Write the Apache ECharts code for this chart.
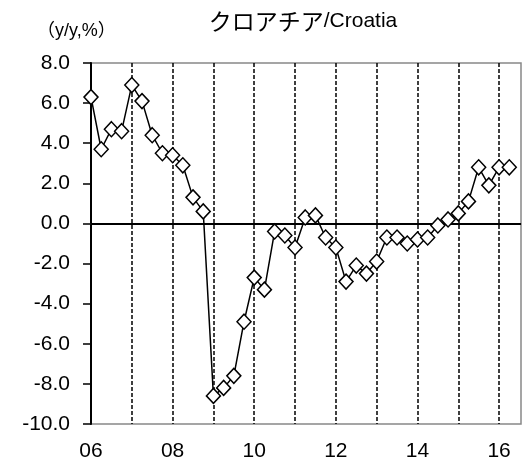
<!DOCTYPE html>
<html>
<head>
<meta charset="utf-8">
<script src="https://cdn.jsdelivr.net/npm/echarts@6/dist/echarts.min.js"></script>
<style>
html,body{margin:0;padding:0;background:#fff;}
#c{width:525px;height:464px;}
</style>
</head>
<body>
<div id="c"></div>
<script>
// Quarterly periods 2006Q1 .. 2016Q2
const quarters = [
  '06Q1','06Q2','06Q3','06Q4','07Q1','07Q2','07Q3','07Q4',
  '08Q1','08Q2','08Q3','08Q4','09Q1','09Q2','09Q3','09Q4',
  '10Q1','10Q2','10Q3','10Q4','11Q1','11Q2','11Q3','11Q4',
  '12Q1','12Q2','12Q3','12Q4','13Q1','13Q2','13Q3','13Q4',
  '14Q1','14Q2','14Q3','14Q4','15Q1','15Q2','15Q3','15Q4',
  '16Q1','16Q2'
];
// y/y % values
const values = [
  6.3, 3.7, 4.7, 4.6, 6.9, 6.1, 4.4, 3.5,
  3.4, 2.9, 1.3, 0.6, -8.6, -8.2, -7.6, -4.9,
  -2.7, -3.3, -0.4, -0.6, -1.2, 0.3, 0.4, -0.7,
  -1.2, -2.9, -2.1, -2.5, -1.9, -0.7, -0.7, -1.0,
  -0.8, -0.7, -0.1, 0.2, 0.5, 1.1, 2.8, 1.9,
  2.8, 2.8
];
// x tick labels (every second year start)
const yearLabels = ['06','08','10','12','14','16'];
const yTicks = { min: -10, max: 8, step: 2 };

const FONT = 'Liberation Sans';
const seriesData = values.map((v, i) => [i, v]);

const chart = echarts.init(document.getElementById('c'), null, {renderer: 'canvas'});
chart.setOption({
  animation: false,
  backgroundColor: '#fff',
  title: [
    {
      text: '{k|クロアチア}{e|/Croatia}',
      left: 298, top: 5, textAlign: 'center',
      textStyle: {
        fontWeight: 'normal',
        rich: {
          k: {fontFamily: '"Noto Sans CJK JP"', fontSize: 23, fontWeight: 'normal', color: '#000'},
          e: {fontFamily: FONT, fontSize: 21, fontWeight: 'normal', color: '#000'}
        }
      }
    },
    {
      text: '（y/y,%）',
      left: 32, top: 17,
      textStyle: {fontFamily: 'Liberation Sans, "Noto Sans CJK JP"', fontSize: 18, fontWeight: 'normal', color: '#000'}
    }
  ],
  grid: {
    left: 91, right: 4, top: 63, bottom: 40,
    show: true, borderColor: '#888', borderWidth: 1.5, backgroundColor: 'transparent'
  },
  xAxis: {
    type: 'value',
    min: 0, max: 42.15, interval: 4,
    axisLine: {show: true, lineStyle: {color: '#888', width: 1.5}},
    axisTick: {show: false},
    axisLabel: {
      margin: 17, color: '#000', fontFamily: FONT, fontSize: 21,
      showMaxLabel: false,
      formatter: function (v) {
        if (v % 8 === 0) { return yearLabels[v / 8] || ''; }
        return '';
      }
    },
    splitLine: {
      show: true, showMinLine: false, showMaxLine: false,
      lineStyle: {color: '#000', width: 1.5, type: [4, 2]}
    }
  },
  yAxis: {
    type: 'value',
    min: yTicks.min, max: yTicks.max, interval: yTicks.step,
    axisLine: {show: true, onZero: false, lineStyle: {color: '#000', width: 2}},
    axisTick: {show: true, length: 8, lineStyle: {color: '#000', width: 1.5}},
    axisLabel: {
      margin: 21, color: '#000', fontFamily: FONT, fontSize: 21,
      formatter: v => v.toFixed(1)
    },
    splitLine: {show: false}
  },
  series: [{
    type: 'line',
    data: seriesData,
    symbol: 'diamond',
    symbolSize: [14, 15],
    showAllSymbol: true,
    lineStyle: {color: '#000', width: 1.5},
    itemStyle: {color: '#fff', borderColor: '#000', borderWidth: 1.5},
    z: 5,
    markLine: {
      silent: true,
      symbol: 'none',
      label: {show: false},
      lineStyle: {color: '#000', width: 2, type: 'solid'},
      data: [{yAxis: 0}],
      z: 3
    }
  }]
});
</script>
</body>
</html>
